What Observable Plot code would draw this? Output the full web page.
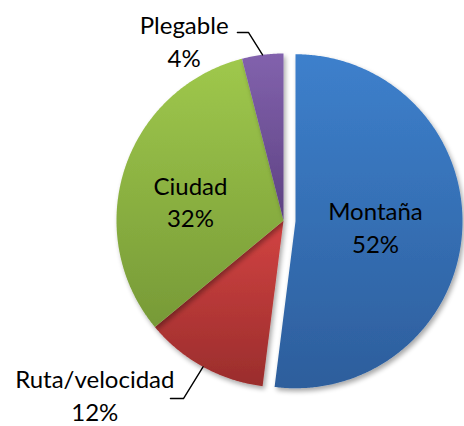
<!DOCTYPE html>
<html><head><meta charset="utf-8">
<script src="https://cdn.jsdelivr.net/npm/d3@7"></script>
<script src="https://cdn.jsdelivr.net/npm/@observablehq/plot@0.6"></script>
<style>html,body{margin:0;padding:0;background:#fff;}</style>
</head><body><div id="chart"></div>
<script>
// ---- data ----
const categories = ["Montaña", "Ruta/velocidad", "Ciudad", "Plegable"];
const shares = [52, 12, 32, 4];
const shareLabels = ["52%", "12%", "32%", "4%"];
const outsideLabel = [false, true, false, true];

// ---- layout / style ----
const W = 464, H = 426, R = 167, CX = 283, CY = 220;
const explode = [0.072, 0, 0, 0];
const labelRadius = [0.48, 1.535, 0.570, 1.235];
const labelTurnDeg = [0, 18.6, -5.8, -21.6];
const leaderElbow = [null, [-0.599, -1.066], null, [-0.210, 1.126]];
const leaderTail = [0, -0.078, 0, -0.066];
const gradTop = ["#3d80cc", "#d24342", "#9fc84c", "#8262ad"];
const gradBottom = ["#2d5e9c", "#9a2d2c", "#779a37", "#5d4282"];

const total = d3.sum(shares);
let acc = 0;
const slices = categories.map((c, i) => {
  const a0 = acc / total * 2 * Math.PI; acc += shares[i];
  const a1 = acc / total * 2 * Math.PI;
  const mid = (a0 + a1) / 2;
  return {c, i, a0, a1, mid, ox: explode[i] * Math.sin(mid), oy: explode[i] * Math.cos(mid)};
});

const slicePts = [];
for (const s of slices) {
  slicePts.push({c: s.c, x: s.ox, y: s.oy});
  const n = Math.max(2, Math.ceil((s.a1 - s.a0) / (Math.PI / 360)));
  for (let k = 0; k <= n; k++) {
    const a = s.a0 + (s.a1 - s.a0) * k / n;
    slicePts.push({c: s.c, x: s.ox + Math.sin(a), y: s.oy + Math.cos(a)});
  }
  slicePts.push({c: s.c, x: s.ox, y: s.oy});
}

const labelData = slices.map(s => {
  const a = s.mid + labelTurnDeg[s.i] * Math.PI / 180;
  const r = labelRadius[s.i];
  return {x: s.ox + r * Math.sin(a), y: s.oy + r * Math.cos(a), text: s.c + "\n" + shareLabels[s.i]};
});

const leaderPts = [];
slices.forEach(s => {
  if (!outsideLabel[s.i]) return;
  const e = leaderElbow[s.i];
  leaderPts.push({k: s.c, x: Math.sin(s.mid), y: Math.cos(s.mid)});
  leaderPts.push({k: s.c, x: e[0], y: e[1]});
  leaderPts.push({k: s.c, x: e[0] + leaderTail[s.i], y: e[1]});
});

const svg = Plot.plot({
  width: W, height: H, margin: 0,
  x: {domain: [-CX / R, (W - CX) / R], axis: null},
  y: {domain: [-(H - CY) / R, CY / R], axis: null},
  color: {type: "ordinal", domain: categories, range: gradTop},
  style: {background: "#fff"},
  marks: [
    Plot.line(slicePts, {x: "x", y: "y", z: "c", fill: "c", stroke: "none"}),
    Plot.line(leaderPts, {x: "x", y: "y", z: "k", stroke: "#000", strokeWidth: 1.4}),
    Plot.text(labelData, {x: "x", y: "y", text: "text", fontSize: 24, fontFamily: "Lato", lineHeight: 1.36, fill: "#000", textAnchor: "middle"})
  ]
});

const root = d3.select(svg);
const defs = root.insert("defs", ":first-child");
categories.forEach((_, i) => {
  const g = defs.append("linearGradient").attr("id", `grad${i}`).attr("x1", 0).attr("y1", 0).attr("x2", 0).attr("y2", 1);
  g.append("stop").attr("offset", "0%").attr("stop-color", gradTop[i]);
  g.append("stop").attr("offset", "100%").attr("stop-color", gradBottom[i]);
});
const f = defs.append("filter").attr("id", "pieshadow").attr("x", "-20%").attr("y", "-20%").attr("width", "140%").attr("height", "140%");
f.append("feGaussianBlur").attr("in", "SourceAlpha").attr("stdDeviation", 2.5).attr("result", "b");
f.append("feOffset").attr("in", "b").attr("dx", 1.5).attr("dy", 2.5).attr("result", "o");
f.append("feComponentTransfer").attr("in", "o").attr("result", "s").append("feFuncA").attr("type", "linear").attr("slope", 0.35);
const m = f.append("feMerge"); m.append("feMergeNode").attr("in", "s"); m.append("feMergeNode").attr("in", "SourceGraphic");

const topToIdx = new Map(gradTop.map((c, i) => [d3.color(c).formatHex(), i]));
root.selectAll("path").each(function() {
  const fill = this.getAttribute("fill");
  if (!fill || fill === "none") return;
  const c = d3.color(fill);
  if (!c) return;
  const i = topToIdx.get(c.formatHex());
  if (i === undefined) return;
  this.setAttribute("fill", `url(#grad${i})`);
  this.setAttribute("filter", "url(#pieshadow)");
});

document.getElementById("chart").appendChild(svg);
</script>
</body></html>
